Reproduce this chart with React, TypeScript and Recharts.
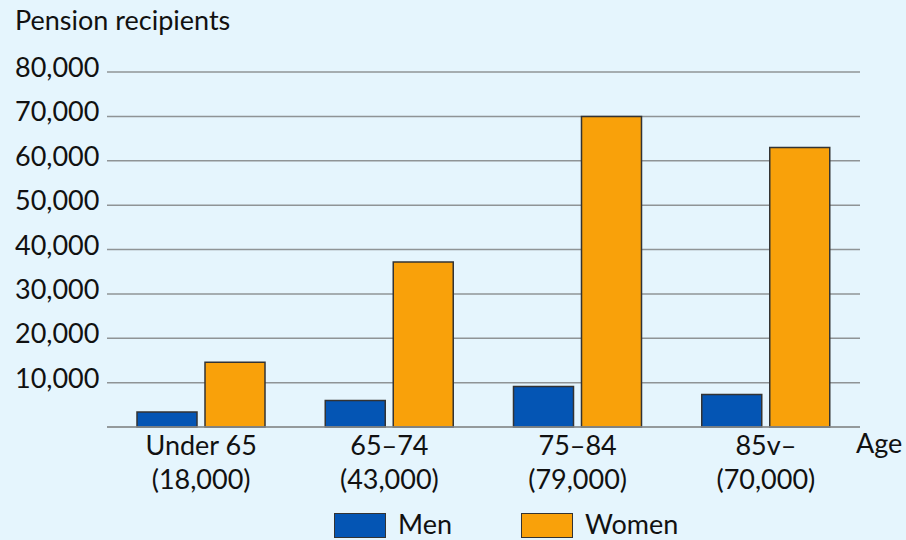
import React from 'react';
import { BarChart, Bar, XAxis, YAxis, CartesianGrid, Legend } from 'recharts';

const ageGroups = ['Under 65', '65–74', '75–84', '85v–'];
const groupTotals = ['(18,000)', '(43,000)', '(79,000)', '(70,000)'];
const menValues = [3400, 6000, 9100, 7300];
const womenValues = [14600, 37200, 70000, 63000];
const yTicks = [10000, 20000, 30000, 40000, 50000, 60000, 70000, 80000];

const FONT = 'Lato, "Open Sans", sans-serif';
const FS = 27;
const BG = '#e5f5fd';
const MEN = '#0455b4';
const WOMEN = '#f9a10a';
const EDGE = '#333333';

const data = ageGroups.map((age, i) => ({
  age,
  total: groupTotals[i],
  men: menValues[i],
  women: womenValues[i],
}));

// two-line category label: age band, then group total
function AgeTick({ x, y, payload, index }: any) {
  return (
    <g>
      <text x={x} y={y + 20} textAnchor="middle" fontSize={FS} fill="#111" fontFamily={FONT}>
        {payload.value}
      </text>
      <text x={x} y={y + 54} textAnchor="middle" fontSize={FS} fill="#111" fontFamily={FONT}>
        {groupTotals[index]}
      </text>
    </g>
  );
}

function CountTick({ y, payload }: any) {
  return (
    <text x={15} y={y + 5} textAnchor="start" fontSize={FS} fill="#111" fontFamily={FONT}>
      {payload.value.toLocaleString('en-US')}
    </text>
  );
}

function LegendBox() {
  const items = [
    { label: 'Men', color: MEN, left: 0 },
    { label: 'Women', color: WOMEN, left: 187 },
  ];
  return (
    <div style={{ position: 'relative', width: 340, height: 32, fontFamily: FONT, fontSize: FS }}>
      {items.map((it) => (
        <div key={it.label} style={{ position: 'absolute', left: it.left, top: 0, display: 'flex', alignItems: 'flex-start' }}>
          <div style={{ width: 50, height: 23, marginTop: 5, background: it.color, border: `1.5px solid ${EDGE}` }} />
          <span style={{ marginLeft: 12, color: '#111', lineHeight: '32px' }}>{it.label}</span>
        </div>
      ))}
    </div>
  );
}

export default function App() {
  return (
    <div style={{ position: 'absolute', left: 0, top: 0, width: 906, height: 540, background: BG, overflow: 'hidden' }}>
      <div style={{ position: 'absolute', left: 15, top: 3, fontFamily: FONT, fontSize: FS, color: '#111', lineHeight: '34px' }}>
        Pension recipients
      </div>
      <div style={{ position: 'absolute', left: 856, top: 426, fontFamily: FONT, fontSize: FS, color: '#111', lineHeight: '34px' }}>
        Age
      </div>
      <BarChart
        width={906}
        height={540}
        data={data}
        margin={{ top: 72, right: 46, bottom: 53, left: 17 }}
        barSize={60}
        barGap={8}
      >
        <CartesianGrid vertical={false} stroke="#8f9496" strokeWidth={1.5} />
        <XAxis
          dataKey="age"
          height={60}
          tickLine={false}
          axisLine={{ stroke: '#8f9496', strokeWidth: 1.5 }}
          tick={<AgeTick />}
          interval={0}
        />
        <YAxis
          width={90}
          domain={[0, 80000]}
          ticks={yTicks}
          axisLine={false}
          tickLine={false}
          tick={<CountTick />}
        />
        <Legend
          layout="vertical"
          align="center"
          verticalAlign="middle"
          wrapperStyle={{ position: 'absolute', left: 334, top: 508, width: 340 }}
          content={<LegendBox />}
        />
        <Bar dataKey="men" name="Men" fill={MEN} stroke={EDGE} strokeWidth={1.5} isAnimationActive={false} />
        <Bar dataKey="women" name="Women" fill={WOMEN} stroke={EDGE} strokeWidth={1.5} isAnimationActive={false} />
      </BarChart>
    </div>
  );
}
